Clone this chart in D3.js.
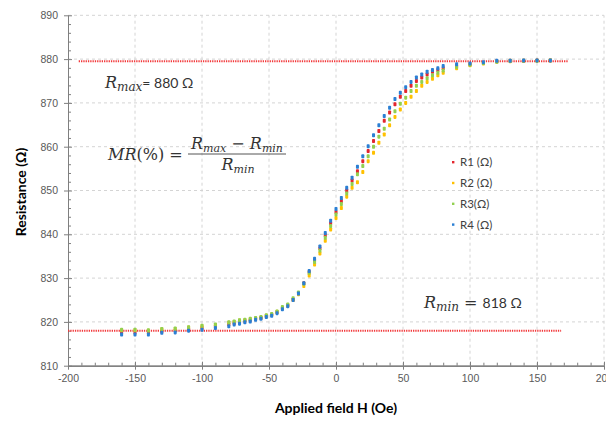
<!DOCTYPE html>
<html>
<head>
<meta charset="utf-8">
<script src="https://cdn.jsdelivr.net/npm/d3@7"></script>
<style>
  body { margin: 0; background: #fff; }
  svg { display: block; font-family: Lato, "Open Sans", sans-serif; }
</style>
</head>
<body>
<svg id="chart" width="606" height="421"></svg>
<script>
// field values (Oe), same for every series
const fieldH = [-160, -150, -140, -130, -120, -110, -100, -90,
  -80, -76, -72, -68, -64, -60, -56, -52, -48, -44, -40, -36, -32, -28, -24, -20, -16, -12, -8, -4,
  0, 4, 8, 12, 16, 20, 24, 28, 32, 36, 40, 44, 48, 52, 56, 60, 64, 68, 72, 76, 80,
  90, 100, 110, 120, 130, 140, 150, 160];

const r1 = [817.5, 817.5, 817.6, 817.8, 818.0, 818.3, 818.6, 818.9,
  819.4, 819.7, 819.9, 820.2, 820.4, 820.7, 820.9, 821.3, 821.6, 822.2, 823.1, 823.7, 825.1, 826.6, 828.8, 831.4, 834.1, 836.8, 839.8, 842.5,
  845.1, 847.6, 850.0, 852.3, 854.4, 856.7, 859.0, 861.3, 863.6, 865.9, 867.8, 869.7, 871.4, 872.7, 873.9, 875.0, 875.8, 876.5, 877.1, 877.5, 877.9,
  878.4, 878.8, 879.1, 879.5, 879.6, 879.6, 879.7, 879.7];
const r2 = [818.1, 818.1, 818.0, 818.3, 818.4, 818.7, 819.0, 819.3,
  819.8, 820.0, 820.3, 820.4, 820.6, 820.8, 821.0, 821.4, 821.7, 822.3, 823.2, 823.8, 825.0, 826.3, 828.2, 830.6, 833.1, 835.6, 838.5, 841.1,
  843.7, 846.0, 848.6, 850.6, 851.9, 854.2, 856.7, 858.6, 860.9, 862.8, 864.9, 866.8, 868.5, 870.0, 871.4, 872.7, 873.9, 874.8, 875.5, 876.3, 876.9,
  877.9, 878.6, 879.0, 879.4, 879.5, 879.6, 879.6, 879.7];
const r3 = [818.2, 818.2, 818.1, 818.4, 818.5, 818.8, 819.1, 819.4,
  819.9, 820.1, 820.4, 820.5, 820.7, 820.9, 821.1, 821.5, 821.8, 822.4, 823.4, 824.0, 825.4, 826.7, 828.7, 831.2, 833.7, 836.3, 839.2, 841.9,
  844.5, 846.9, 849.3, 851.5, 853.7, 855.6, 857.8, 860.0, 862.3, 864.1, 866.2, 868.1, 869.8, 871.2, 872.7, 873.9, 874.8, 875.6, 876.3, 876.9, 877.4,
  878.2, 878.7, 879.1, 879.4, 879.6, 879.6, 879.6, 879.7];
const r4 = [817.1, 817.1, 817.1, 817.5, 817.6, 818.0, 818.2, 818.6,
  819.0, 819.4, 819.6, 819.9, 820.1, 820.5, 820.7, 821.1, 821.4, 822.0, 822.9, 823.6, 825.0, 826.5, 828.8, 831.6, 834.4, 837.2, 840.3, 843.1,
  845.8, 848.3, 850.6, 852.9, 855.4, 857.8, 860.1, 862.6, 864.9, 867.0, 868.9, 870.9, 872.3, 873.6, 874.8, 875.8, 876.5, 877.1, 877.5, 877.9, 878.4,
  878.8, 879.0, 879.3, 879.6, 879.6, 879.7, 879.7, 879.7];

const seriesNames = ["R1 (\u03a9)", "R2 (\u03a9)", "R3(\u03a9)", "R4 (\u03a9)"];
const seriesColors = ["#e3262e", "#ffc000", "#92d050", "#2a7fd4"];
const seriesValues = [r1, r2, r3, r4];

const xTicks = [-200, -150, -100, -50, 0, 50, 100, 150, 200];
const yTicks = [810, 820, 830, 840, 850, 860, 870, 880, 890];

// reference lines (Rmax / Rmin), from..to in Oe
const rMaxLine = { from: -192, to: 173, value: 879.5 };
const rMinLine = { from: -200, to: 168, value: 818 };

const svg = d3.select("#chart");
const x = d3.scaleLinear().domain([-200, 200]).range([68, 604]);
const y = d3.scaleLinear().domain([810, 890]).range([365.7, 15.3]);

// gridlines
const grid = svg.append("g").attr("stroke", "#d4d4d4").attr("stroke-dasharray", "3,3");
grid.selectAll("line.h").data(yTicks.slice(1)).join("line")
    .attr("x1", x(-200)).attr("x2", x(200))
    .attr("y1", d => y(d)).attr("y2", d => y(d));
grid.selectAll("line.v").data(xTicks.slice(1)).join("line")
    .attr("y1", y(810)).attr("y2", y(890))
    .attr("x1", d => x(d)).attr("x2", d => x(d));

// axes: labels + outer half of major ticks, then inner ticks
const axisColor = "#7f7f7f";
const plain = d => String(d); // keep ascii hyphen like the source
function styleAxis(g) {
    g.select(".domain").attr("stroke", axisColor);
    g.selectAll(".tick line").attr("stroke", axisColor);
    g.selectAll("text").attr("fill", "#595959").attr("font-size", "10.5px");
}

svg.append("g").attr("transform", `translate(0,${y(810)})`)
    .call(d3.axisBottom(x).tickValues(xTicks).tickFormat(plain).tickSize(4).tickPadding(5).tickSizeOuter(0))
    .call(styleAxis);
svg.append("g").attr("transform", `translate(0,${y(810)})`)
    .call(d3.axisBottom(x).tickValues(xTicks).tickSize(-4).tickFormat("").tickSizeOuter(0))
    .call(styleAxis);
svg.append("g").attr("transform", `translate(0,${y(810)})`)
    .call(d3.axisBottom(x).tickValues(d3.range(-200, 201, 10).filter(v => v % 50 !== 0))
        .tickSize(-3).tickFormat("").tickSizeOuter(0))
    .call(styleAxis);

svg.append("g").attr("transform", `translate(${x(-200)},0)`)
    .call(d3.axisLeft(y).tickValues(yTicks).tickFormat(plain).tickSize(4).tickPadding(6).tickSizeOuter(0))
    .call(styleAxis);
svg.append("g").attr("transform", `translate(${x(-200)},0)`)
    .call(d3.axisLeft(y).tickValues(yTicks).tickSize(-4).tickFormat("").tickSizeOuter(0))
    .call(styleAxis);
svg.append("g").attr("transform", `translate(${x(-200)},0)`)
    .call(d3.axisLeft(y).tickValues(d3.range(810, 891, 2).filter(v => v % 10 !== 0))
        .tickSize(-3).tickFormat("").tickSizeOuter(0))
    .call(styleAxis);

// axis titles
svg.append("text").attr("x", 336).attr("y", 413).attr("text-anchor", "middle")
    .attr("font-weight", "bold").attr("font-size", "14px").attr("fill", "#000")
    .text("Applied field H (Oe)");
svg.append("text").attr("transform", "translate(26,192) rotate(-90)").attr("text-anchor", "middle")
    .attr("font-weight", "bold").attr("font-size", "14px").attr("fill", "#000")
    .text("Resistance (\u03a9)");

// red dotted reference lines
svg.selectAll("line.ref").data([rMaxLine, rMinLine]).join("line")
    .attr("x1", d => x(d.from)).attr("x2", d => x(d.to))
    .attr("y1", d => y(d.value)).attr("y2", d => y(d.value))
    .attr("stroke", "#f2393b").attr("stroke-width", 2).attr("stroke-dasharray", "1.3,1");

// data markers
seriesValues.forEach((vals, i) => {
    svg.append("g").selectAll("rect").data(fieldH).join("rect")
        .attr("x", d => x(d) - 1.5)
        .attr("y", (d, j) => y(vals[j]) - 2)
        .attr("width", 3).attr("height", 4).attr("rx", 0.8)
        .attr("fill", seriesColors[i]);
});

// legend
const legend = svg.append("g").attr("transform", "translate(453,162)");
seriesNames.forEach((name, i) => {
    const row = legend.append("g").attr("transform", `translate(0,${i * 20.8})`);
    row.append("rect").attr("x", -1).attr("y", -1).attr("width", 2.4).attr("height", 2.4)
        .attr("fill", seriesColors[i]);
    row.append("text").attr("x", 7).attr("y", 4.2).attr("font-size", "11.5px")
        .attr("fill", "#404040").text(name);
});

// annotations
const mathFont = "'DejaVu Serif', 'Liberation Serif', serif";
const ink = "#333";

const tMax = svg.append("text").attr("x", 105).attr("y", 88).attr("fill", ink);
tMax.append("tspan").attr("font-family", mathFont).attr("font-style", "italic").attr("font-size", "16px").text("R");
tMax.append("tspan").attr("font-family", mathFont).attr("font-style", "italic").attr("font-size", "12px").attr("dy", 3).text("max");
tMax.append("tspan").attr("font-size", "14px").attr("dy", -3).text("= 880 \u03a9");

const tMin = svg.append("text").attr("x", 424).attr("y", 308).attr("fill", ink);
tMin.append("tspan").attr("font-family", mathFont).attr("font-style", "italic").attr("font-size", "16px").text("R");
tMin.append("tspan").attr("font-family", mathFont).attr("font-style", "italic").attr("font-size", "12px").attr("dy", 3).text("min");
tMin.append("tspan").attr("font-family", mathFont).attr("font-size", "16px").attr("dy", -3).text(" = ");
tMin.append("tspan").attr("font-size", "14px").text("818 \u03a9");

const mr = svg.append("text").attr("x", 108).attr("y", 160).attr("fill", ink)
    .attr("font-family", mathFont).attr("font-size", "16px");
mr.append("tspan").attr("font-style", "italic").text("MR");
mr.append("tspan").text("(%) =");

const num = svg.append("text").attr("x", 237).attr("y", 149).attr("text-anchor", "middle")
    .attr("fill", ink).attr("font-family", mathFont).attr("font-size", "16px");
num.append("tspan").attr("font-style", "italic").text("R");
num.append("tspan").attr("font-style", "italic").attr("font-size", "11px").attr("dy", 3).text("max");
num.append("tspan").attr("dy", -3).text(" \u2212 ");
num.append("tspan").attr("font-style", "italic").text("R");
num.append("tspan").attr("font-style", "italic").attr("font-size", "11px").attr("dy", 3).text("min");

svg.append("line").attr("x1", 188).attr("x2", 286).attr("y1", 154).attr("y2", 154)
    .attr("stroke", "#555").attr("stroke-width", 1);

const den = svg.append("text").attr("x", 238).attr("y", 170).attr("text-anchor", "middle")
    .attr("fill", ink).attr("font-family", mathFont).attr("font-size", "16px");
den.append("tspan").attr("font-style", "italic").text("R");
den.append("tspan").attr("font-style", "italic").attr("font-size", "11px").attr("dy", 3).text("min");
</script>
</body>
</html>
